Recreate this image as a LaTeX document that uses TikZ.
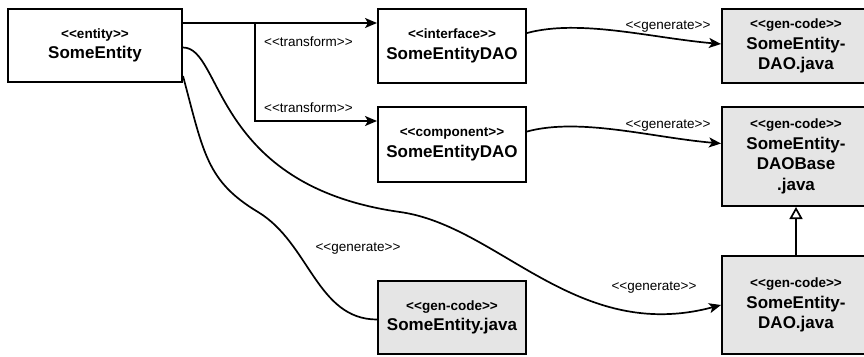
\documentclass[tikz,border=0pt]{standalone}
\usepackage{fontspec}
\setmainfont{Liberation Sans}
\usetikzlibrary{arrows.meta}
\newcommand{\stype}[1]{{\fontsize{13.5}{16}\selectfont <{}<#1>{}>}}

\begin{document}
\begin{tikzpicture}[x=1pt,y=-1pt,>={Stealth[length=12pt,width=10pt,inset=3pt]},
	box/.style={draw,line width=2pt,align=center,inner sep=2pt,minimum width=148pt,
		font=\bfseries\fontsize{17}{20.5}\selectfont},
	code/.style={box,fill=black!10},
	flow/.style={line width=1.7pt},
	lbl/.style={inner sep=0pt,font=\fontsize{13.5}{16}\selectfont}]
	\useasboundingbox (0,0) rectangle (864,356);
	% model boxes
	\node[box,minimum width=174pt,minimum height=73pt] (entity) at (95,45.5) {\stype{entity}\\SomeEntity};
	\node[box,minimum height=74pt] (ifacedao) at (452,46) {\stype{interface}\\SomeEntityDAO};
	\node[box,minimum height=75pt] (compdao) at (452,144.5) {\stype{component}\\SomeEntityDAO};
	% generated code
	\node[code,minimum height=74pt] (gendao) at (796,46) {\stype{gen-code}\\SomeEntity-\\DAO.java};
	\node[code,minimum height=99pt] (genbase) at (796,156.5) {\stype{gen-code}\\SomeEntity-\\DAOBase\\.java};
	\node[code,minimum height=98pt] (gendaoimpl) at (796,305) {\stype{gen-code}\\SomeEntity-\\DAO.java};
	\node[code,minimum height=73pt] (genentity) at (452,317.5) {\stype{gen-code}\\SomeEntity.java};
	\coordinate (split) at (255,24);
	\coordinate (bendC) at (400,212);
	\coordinate (bendD) at (258,212);
	% transform
	\draw[flow,->] ([yshift=-15pt]entity.north east) -- ([yshift=-15pt]ifacedao.north west);
	\draw[flow,->] (split) |- ([yshift=-15pt]compdao.north west);
	\node[lbl,anchor=west] (trA) at (264,42) {<{}<transform>{}>};
	\node[lbl,anchor=west] (trB) at (264,108) {<{}<transform>{}>};
	% generate
	\draw[flow,->] ([yshift=13pt]ifacedao.east) to[out=15,in=175,out distance=55pt,in distance=70pt] ([yshift=2pt]gendao.west);
	\draw[flow,->] ([yshift=13pt]compdao.east) to[out=15,in=175,out distance=55pt,in distance=70pt] ([yshift=13pt]genbase.west);
	\draw[flow,->] ([yshift=-2pt]entity.east) to[out=0,in=172,out distance=40pt,in distance=190pt] (bendC)
		to[out=-8,in=195,out distance=100pt,in distance=150pt] (gendaoimpl.west);
	\draw[flow] ([yshift=7pt]entity.south east) to[out=-75,in=149,out distance=80pt,in distance=60pt] (bendD)
		to[out=-31,in=180,out distance=60pt,in distance=60pt] ([yshift=-2pt]genentity.west);
	\node[lbl] (genA) at (668,27) {<{}<generate>{}>};
	\node[lbl] (genB) at (668,126) {<{}<generate>{}>};
	\node[lbl] (genC) at (654,288) {<{}<generate>{}>};
	\node[lbl] (genD) at (358,249) {<{}<generate>{}>};
	% base class
	\draw[flow,-{Triangle[open,length=12pt,width=13pt]}] (gendaoimpl.north) -- (genbase.south);
\end{tikzpicture}
\end{document}
